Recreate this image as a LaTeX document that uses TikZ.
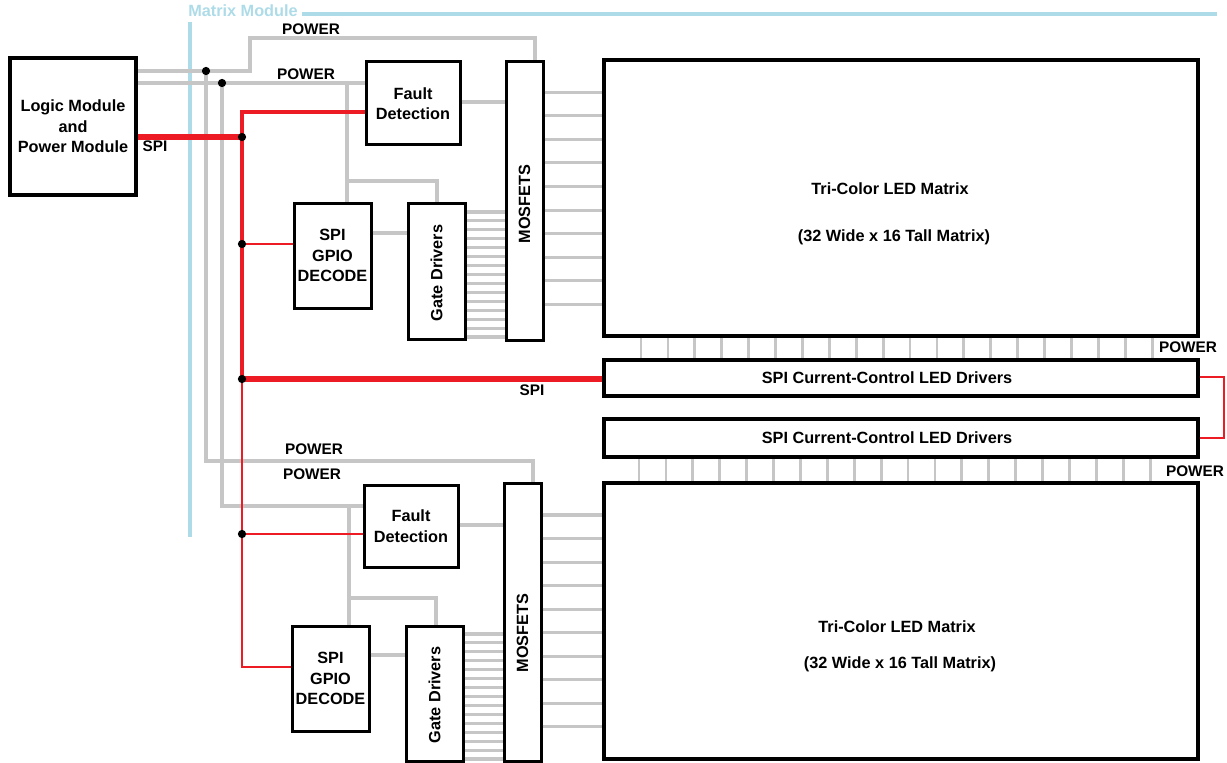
\documentclass[tikz,border=0pt]{standalone}
\usepackage{fontspec}
\setmainfont{Liberation Sans}
\definecolor{lg}{RGB}{198,198,198}
\definecolor{rd}{RGB}{237,28,36}
\definecolor{lb}{RGB}{173,219,232}
\begin{document}
\begin{tikzpicture}[x=0.75pt,y=-0.75pt,
  box/.style={draw, line width=2.25pt, fill=white, inner sep=0pt, align=center,
    font=\bfseries\fontsize{12.2}{15.4}\selectfont},
  bigbox/.style={box, line width=2.7pt},
  txt/.style={inner sep=0pt, font=\bfseries\fontsize{12.2}{15.4}\selectfont},
  lbl/.style={inner sep=0pt, font=\bfseries\fontsize{11.5}{14}\selectfont},
  gline/.style={draw=lg, line width=2.3pt},
  vline/.style={draw=lg, line width=2.1pt},
  rline/.style={draw=rd},
  bline/.style={draw=lb, line width=3.2pt},
  dot/.style={circle, fill=black, inner sep=0pt, minimum size=6.2pt}]
\useasboundingbox (0,0) rectangle (1227,763);

% ---- blue module frame
\node[inner sep=0pt, text=lb, font=\bfseries\fontsize{12.2}{14}\selectfont] (mm) at (243,11) {Matrix Module};
\coordinate (bl1) at (302,14); \coordinate (bl2) at (1217,14);
\coordinate (bv1) at (190,22); \coordinate (bv2) at (190,537);
\draw[bline] (bl1) -- (bl2);
\draw[bline] (bv1) -- (bv2);

% ---- boxes
\node[box, line width=3.4pt, minimum width=94.5pt, minimum height=102.75pt] (logic) at (73,126.5) {Logic Module\\and\\Power Module};
\node[box, minimum width=70.5pt, minimum height=62.25pt] (fd1) at (413,103.5) {Fault\\Detection};
\node[box, minimum width=27.75pt, minimum height=208.5pt] (mos1) at (524.5,201) {};
\node[txt, rotate=90] at (524.5,204) {MOSFETS};
\node[box, minimum width=57.75pt, minimum height=78.75pt] (gpio1) at (332.5,255.5) {SPI\\GPIO\\DECODE};
\node[box, minimum width=42.75pt, minimum height=102pt] (gd1) at (436.5,271) {};
\node[txt, rotate=90] at (436.5,273) {Gate Drivers};
\node[bigbox, minimum width=445.5pt, minimum height=207pt] (led1) at (901,198) {};
\node[txt] at (890,189) {Tri-Color LED Matrix};
\node[txt] at (894,237) {(32 Wide x 16 Tall Matrix)};
\node[bigbox, line width=3pt, minimum width=445.5pt, minimum height=27pt] (drv1) at (901,378) {};
\node[txt] at (887,378) {SPI Current-Control LED Drivers};
\node[bigbox, line width=3pt, minimum width=445.5pt, minimum height=28.5pt] (drv2) at (901,438) {};
\node[txt] at (887,438) {SPI Current-Control LED Drivers};
\node[bigbox, minimum width=445.5pt, minimum height=207pt] (led2) at (901,621) {};
\node[txt] at (897,627) {Tri-Color LED Matrix};
\node[txt] at (900,664) {(32 Wide x 16 Tall Matrix)};
\node[box, minimum width=70.5pt, minimum height=61.5pt] (fd2) at (411,526) {Fault\\Detection};
\node[box, minimum width=27.75pt, minimum height=208.5pt] (mos2) at (522.5,622) {};
\node[txt, rotate=90] at (522.5,633) {MOSFETS};
\node[box, minimum width=57.75pt, minimum height=78.75pt] (gpio2) at (330.5,678.5) {SPI\\GPIO\\DECODE};
\node[box, minimum width=42.75pt, minimum height=101.25pt] (gd2) at (434.5,693.5) {};
\node[txt, rotate=90] at (434.5,695) {Gate Drivers};

% ---- labels
\node[lbl] at (311,29) {POWER};
\node[lbl] at (306,74) {POWER};
\node[lbl] at (314,449) {POWER};
\node[lbl] at (312,474) {POWER};
\node[lbl] at (1188,347) {POWER};
\node[lbl] at (1195,471) {POWER};
\node[lbl] at (155,146) {SPI};
\node[lbl] at (532,390) {SPI};

% ---- junction coordinates
\coordinate (j1) at (206,71);
\coordinate (j2) at (222,83);
\coordinate (k1) at (250,38);
\coordinate (k2) at (535,38);
\coordinate (k3) at (206,461);
\coordinate (k4) at (533,461);
\coordinate (k5) at (222,506);
\coordinate (b1) at (347,83);
\coordinate (b2) at (347,181);
\coordinate (b3) at (437,181);
\coordinate (b4) at (349,506);
\coordinate (b5) at (349,598);
\coordinate (b6) at (436,598);
\coordinate (g1) at (371,233);
\coordinate (g2) at (369,655);
\coordinate (f1) at (460,102);
\coordinate (f2) at (458,525);
\coordinate (r0) at (242,137);
\coordinate (r1) at (242,244);
\coordinate (r2) at (242,379);
\coordinate (r3) at (242,534);
\coordinate (rt) at (242,112);
\coordinate (rb) at (242,667);
\coordinate (rc) at (1224,377);

% ---- gray power / control lines
\draw[gline] (logic.east |- j1) -- (j1) -- (j1 -| k1) -- (k1) -- (k2) -- (k2 |- mos1.north);
\draw[gline] (j1) -- (k3) -- (k4) -- (k4 |- mos2.north);
\draw[gline] (logic.east |- j2) -- (fd1.west |- j2);
\draw[gline] (j2) -- (k5) -- (fd2.west |- k5);
\draw[gline] (b1) -- (b1 |- gpio1.north);
\draw[gline] (b2) -- (b3) -- (b3 |- gd1.north);
\draw[gline] (b4) -- (b4 |- gpio2.north);
\draw[gline] (b5) -- (b6) -- (b6 |- gd2.north);
\draw[gline] (fd1.east |- f1) -- (mos1.west |- f1);
\draw[gline] (fd2.east |- f2) -- (mos2.west |- f2);
\draw[gline] (gpio1.east |- g1) -- (gd1.west |- g1);
\draw[gline] (gpio2.east |- g2) -- (gd2.west |- g2);

% gate driver -> MOSFET bundles
\foreach \i in {0,...,14} {
  \coordinate (tmp) at (0,{212+\i*8.93});
  \draw[gline] (gd1.east |- tmp) -- (mos1.west |- tmp);
  \coordinate (tmq) at (0,{634+\i*8.93});
  \draw[gline] (gd2.east |- tmq) -- (mos2.west |- tmq);
}
% MOSFET -> LED matrix rows
\foreach \i in {0,...,9} {
  \coordinate (tmp) at (0,{92.3+\i*23.55});
  \draw[gline] (mos1.east |- tmp) -- (led1.west |- tmp);
  \coordinate (tmq) at (0,{515+\i*23.55});
  \draw[gline] (mos2.east |- tmq) -- (led2.west |- tmq);
}
% LED matrix columns -> drivers
\foreach \i in {0,...,19} {
  \coordinate (tmp) at ({641+\i*26.9},0);
  \draw[vline] (tmp |- led1.south) -- (tmp |- drv1.north);
  \coordinate (tmq) at ({639+\i*26.9},0);
  \draw[vline] (tmq |- drv2.south) -- (tmq |- led2.north);
}

% ---- red SPI lines
\draw[rline, line width=2.4pt] (fd1.west |- rt) -- (rt) -- (r2);
\draw[rline, line width=1.8pt] (r2) -- (rb) -- (gpio2.west |- rb);
\draw[rline, line width=1.9pt] (r1) -- (gpio1.west |- r1);
\draw[rline, line width=1.8pt] (r3) -- (fd2.west |- r3);
\draw[rline, line width=4.2pt] (logic.east |- r0) -- (r0);
\draw[rline, line width=3.9pt] (r2) -- (drv1.west |- r2);
\draw[rline, line width=1.9pt] (drv1.east |- rc) -- (rc) |- (drv2.east);

% ---- junction dots
\foreach \c in {j1,j2,r0,r1,r2,r3} \node[dot] at (\c) {};
\end{tikzpicture}
\end{document}
